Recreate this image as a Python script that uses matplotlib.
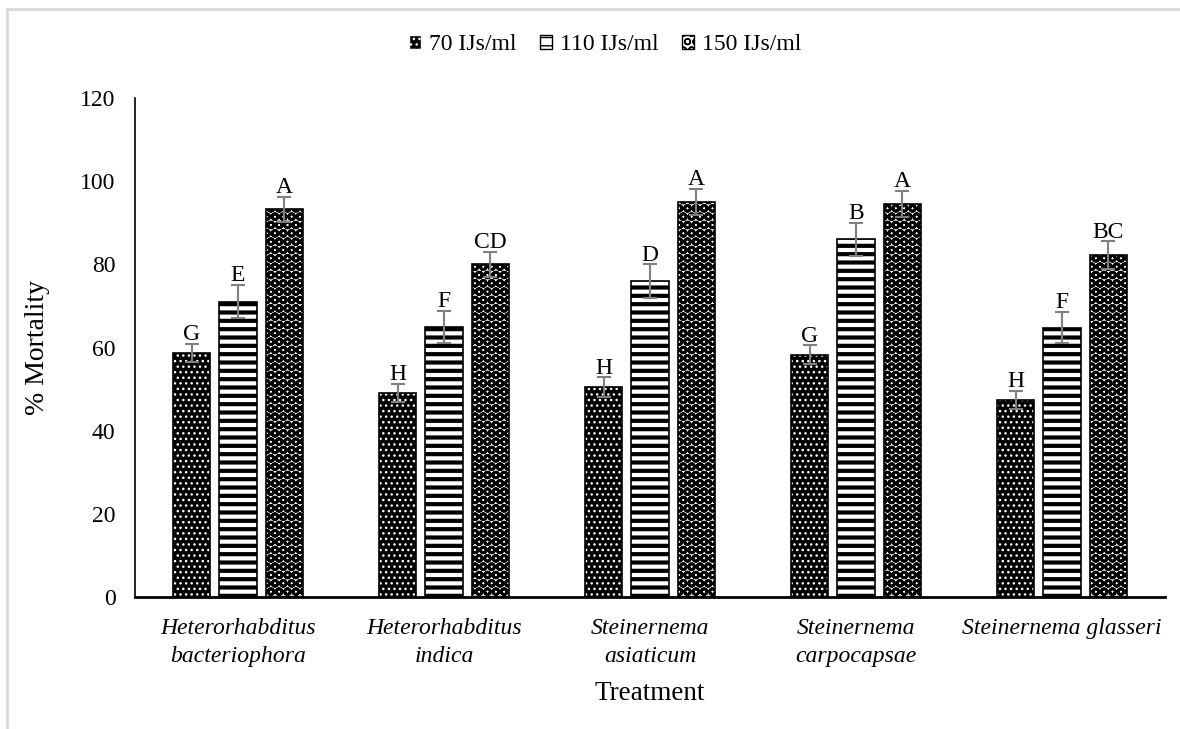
import numpy as np
import matplotlib
matplotlib.use("Agg")
import matplotlib.pyplot as plt
from matplotlib.patches import Patch, Rectangle

plt.rcParams['font.family'] = ['Liberation Serif', 'DejaVu Serif']

treatments = ["Heterorhabditus\nbacteriophora", "Heterorhabditus\nindica",
              "Steinernema\nasiaticum", "Steinernema\ncarpocapsae",
              "Steinernema glasseri"]
doses = ["70 IJs/ml", "110 IJs/ml", "150 IJs/ml"]

mort_70 = [58.7, 49.0, 50.5, 58.3, 47.3]
mort_110 = [71.0, 65.0, 76.0, 86.0, 64.8]
mort_150 = [93.3, 80.0, 95.0, 94.5, 82.2]

err_70 = [2.2, 2.2, 2.3, 2.2, 2.2]
err_110 = [4.0, 3.8, 4.0, 4.0, 3.8]
err_150 = [3.0, 3.0, 3.2, 3.2, 3.3]

lett_70 = ["G", "H", "H", "G", "H"]
lett_110 = ["E", "F", "D", "B", "F"]
lett_150 = ["A", "CD", "A", "A", "BC"]

# (face, hatch colour, hatch, hatch linewidth)
styles = [("black", "white", "...", 1.0),
          ("white", "black", "--", 3.0),
          ("white", "black", "OO", 2.0)]

fig = plt.figure(figsize=(11.8, 7.29), dpi=100)
ax = fig.add_axes([135/1180, 1-597/729, 1030/1180, 499/729])

x = np.arange(len(treatments))
w = 0.18
step = 0.224
handles = []
for i, (vals, errs, letts) in enumerate(zip([mort_70, mort_110, mort_150],
                                            [err_70, err_110, err_150],
                                            [lett_70, lett_110, lett_150])):
    face, hc, hatch, hlw = styles[i]
    pos = x + (i - 1) * step
    with plt.rc_context({'hatch.linewidth': hlw}):
        ax.bar(pos, vals, w, color=face, edgecolor=hc, hatch=hatch, linewidth=0, zorder=2)
        handles.append(Patch(facecolor=face, edgecolor=hc if face == "black" else "black",
                             hatch=hatch, linewidth=1))
    ax.bar(pos, vals, w, fill=False, edgecolor="black", linewidth=1.2, zorder=3)
    ax.errorbar(pos, vals, yerr=errs, fmt="none", ecolor="#7f7f7f", elinewidth=1.5,
                capsize=5, capthick=1.5, zorder=4)
    for p, v, e, t in zip(pos, vals, errs, letts):
        ax.text(p, v + e - 0.3, t, ha="center", va="bottom", fontsize=17)

ax.set_xlim(-0.5, 4.5)
ax.set_ylim(0, 120)
ax.set_yticks(range(0, 121, 20))
ax.set_xticks(x)
ax.set_xticklabels(treatments, fontstyle="italic", fontsize=17, linespacing=1.45)
ax.tick_params(axis="y", length=0, pad=14, labelsize=17)
ax.tick_params(axis="x", length=0, pad=15)
for s in ["top", "right"]:
    ax.spines[s].set_visible(False)
ax.spines["left"].set_linewidth(1.2)
ax.spines["bottom"].set_linewidth(2)
ax.set_ylabel("% Mortality", fontsize=20, labelpad=22)
ax.set_xlabel("Treatment", fontsize=19.5, labelpad=10)

fig.legend(handles, doses, loc="center", bbox_to_anchor=(0.513, 1-45/729), ncol=3,
           frameon=False, fontsize=17, handlelength=0.5, handleheight=0.5,
           handletextpad=0.35, columnspacing=1.0)

fig.add_artist(Rectangle((7/1180, -0.1), 1.2, 1-9/729 + 0.1, transform=fig.transFigure,
                         fill=False, edgecolor="#d9d9d9", linewidth=2))

fig.savefig("out.png", dpi=100)
